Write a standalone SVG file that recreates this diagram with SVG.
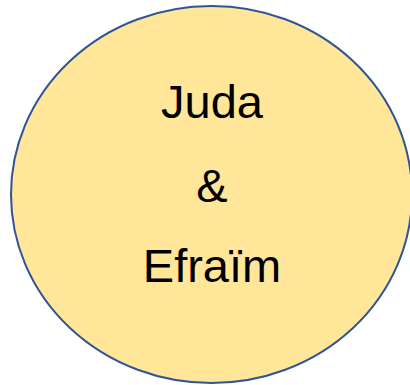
<svg xmlns="http://www.w3.org/2000/svg" width="410" height="385" viewBox="0 0 410 385">
<style>
.lbl{font-family:"Liberation Sans",Arial,sans-serif;font-size:47px;fill:#000;text-anchor:middle}
</style>
<rect width="410" height="385" fill="#fff"/>
<g id="node-juda-efraim">
<ellipse cx="211.5" cy="194.5" rx="200.5" ry="188.5" fill="#ffe699" stroke="#2f5597" stroke-width="2"/>
<text class="lbl" x="212" y="118">Juda</text>
<text class="lbl" x="212" y="202">&amp;</text>
<text class="lbl" x="212" y="282">Efraïm</text>
</g>
<g id="connectors"/>
</svg>
